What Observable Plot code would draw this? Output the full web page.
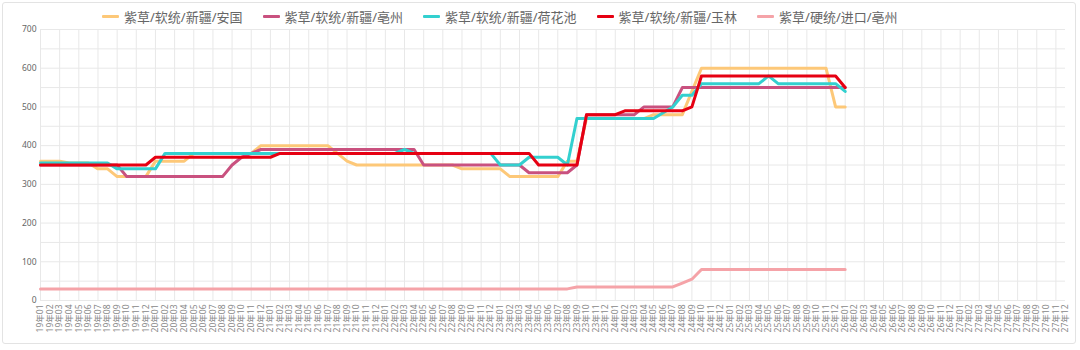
<!DOCTYPE html>
<html>
<head>
<meta charset="utf-8">
<script src="https://cdn.jsdelivr.net/npm/d3@7"></script>
<script src="https://cdn.jsdelivr.net/npm/@observablehq/plot@0.6"></script>
<style>
  html, body { margin: 0; padding: 0; background: #fff; }
  #wrap { position: relative; width: 1080px; height: 350px; overflow: hidden; font-family: "Noto Sans", "Noto Sans CJK SC", sans-serif; }
  #frame { position: absolute; left: 2px; top: 2px; width: 1072px; height: 340px; border: 1px solid #e3e3e3; border-radius: 3px; pointer-events: none; }
  #legend { height: 24px; box-sizing: border-box; padding-top: 8px; padding-left: 102px; display: flex; align-items: center; }
  .item { display: flex; align-items: center; margin-right: 20px; font-size: 13px; color: #666; white-space: nowrap; }
  .sw { width: 17px; height: 3px; margin-right: 5px; border-radius: 1px; }
</style>
</head>
<body>
<div id="wrap">
  <div id="legend"></div>
  <div id="chart"></div>
  <div id="frame"></div>
</div>
<script>
const labels = [
"19年01","19年02","19年03","19年04","19年05","19年06","19年07","19年08","19年09","19年10","19年11","19年12",
"20年01","20年02","20年03","20年04","20年05","20年06","20年07","20年08","20年09","20年10","20年11","20年12",
"21年01","21年02","21年03","21年04","21年05","21年06","21年07","21年08","21年09","21年10","21年11","21年12",
"22年01","22年02","22年03","22年04","22年05","22年06","22年07","22年08","22年09","22年10","22年11","22年12",
"23年01","23年02","23年03","23年04","23年05","23年06","23年07","23年08","23年09","23年10","23年11","23年12",
"24年01","24年02","24年03","24年04","24年05","24年06","24年07","24年08","24年09","24年10","24年11","24年12",
"25年01","25年02","25年03","25年04","25年05","25年06","25年07","25年08","25年09","25年10","25年11","25年12",
"26年01","26年02","26年03","26年04","26年05","26年06","26年07","26年08","26年09","26年10","26年11","26年12",
"27年01","27年02","27年03","27年04","27年05","27年06","27年07","27年08","27年09","27年10","27年11","27年12"
];

const seriesNames = ["紫草/软统/新疆/安国","紫草/软统/新疆/亳州","紫草/软统/新疆/荷花池","紫草/软统/新疆/玉林","紫草/硬统/进口/亳州"];
const seriesColors = ["#fdc878","#c9517f","#33d0cf","#e60012","#f5a3a8"];

const anguo = [
360,360,360,355,355,355,340,340,320,320,320,320,
360,360,360,360,380,380,380,380,380,380,380,400,
400,400,400,400,400,400,400,380,360,350,350,350,
350,350,350,350,350,350,350,350,340,340,340,340,
340,320,320,320,320,320,320,360,360,470,470,470,
470,470,470,470,480,480,480,480,540,600,600,600,
600,600,600,600,600,600,600,600,600,600,600,500,
500];
const bozhou = [
350,350,350,350,350,350,350,350,350,320,320,320,
320,320,320,320,320,320,320,320,350,370,380,390,
390,390,390,390,390,390,390,390,390,390,390,390,
390,390,390,390,350,350,350,350,350,350,350,350,
350,350,350,330,330,330,330,330,350,480,480,480,
480,480,480,500,500,500,500,550,550,550,550,550,
550,550,550,550,550,550,550,550,550,550,550,550,
550];
const hehuachi = [
355,355,355,355,355,355,355,355,340,340,340,340,
340,380,380,380,380,380,380,380,380,380,380,380,
380,380,380,380,380,380,380,380,380,380,380,380,
380,380,390,380,380,380,380,380,380,380,380,380,
350,350,350,370,370,370,370,350,470,470,470,470,
470,470,470,470,470,485,500,530,530,560,560,560,
560,560,560,560,580,560,560,560,560,560,560,560,
540];
const yulin = [
350,350,350,350,350,350,350,350,350,350,350,350,
370,370,370,370,370,370,370,370,370,370,370,370,
370,380,380,380,380,380,380,380,380,380,380,380,
380,380,380,380,380,380,380,380,380,380,380,380,
380,380,380,380,350,350,350,350,350,480,480,480,
480,490,490,490,490,490,490,490,500,580,580,580,
580,580,580,580,580,580,580,580,580,580,580,580,
550];
const yingtong = [
30,30,30,30,30,30,30,30,30,30,30,30,
30,30,30,30,30,30,30,30,30,30,30,30,
30,30,30,30,30,30,30,30,30,30,30,30,
30,30,30,30,30,30,30,30,30,30,30,30,
30,30,30,30,30,30,30,30,35,35,35,35,
35,35,35,35,35,35,35,45,55,80,80,80,
80,80,80,80,80,80,80,80,80,80,80,80,
80];

const yTicks = [0,100,200,300,400,500,600,700];
const yGrid = [0,50,100,150,200,250,300,350,400,450,500,550,600,650,700];

const allSeries = [anguo, bozhou, hehuachi, yulin, yingtong];
const rows = [];
allSeries.forEach((vals, s) => vals.forEach((v, i) => rows.push({name: seriesNames[s], label: labels[i], value: v})));

// legend
const legend = document.getElementById("legend");
seriesNames.forEach((n, i) => {
  const it = document.createElement("div");
  it.className = "item";
  it.innerHTML = `<span class="sw" style="background:${seriesColors[i]}"></span><span>${n}</span>`;
  legend.appendChild(it);
});

const chart = Plot.plot({
  width: 1080,
  height: 326,
  marginTop: 5,
  marginBottom: 50,
  marginLeft: 40,
  marginRight: 15,
  style: {fontFamily: '"Noto Sans", "Noto Sans CJK SC", sans-serif', background: "transparent", overflow: "visible"},
  x: {type: "point", domain: labels, padding: 0},
  y: {domain: [0, 700]},
  color: {domain: seriesNames, range: seriesColors},
  marks: [
    Plot.ruleY(yGrid, {stroke: "#e8e8e8", strokeWidth: 1}),
    Plot.ruleX(labels.filter((d, i) => i % 2 === 0), {stroke: "#e8e8e8", strokeWidth: 1}),
    Plot.axisY(yTicks, {tickSize: 0, tickPadding: 4, fontSize: 8.5, fill: "#666", label: null}),
    Plot.axisX({tickRotate: -90, tickSize: 0, tickPadding: 4, fontSize: 8.5, fill: "#888", label: null}),
    Plot.line(rows, {x: "label", y: "value", z: "name", stroke: "name", strokeWidth: 3, strokeLinejoin: "round", strokeLinecap: "round"})
  ]
});
document.getElementById("chart").appendChild(chart);
</script>
</body>
</html>
